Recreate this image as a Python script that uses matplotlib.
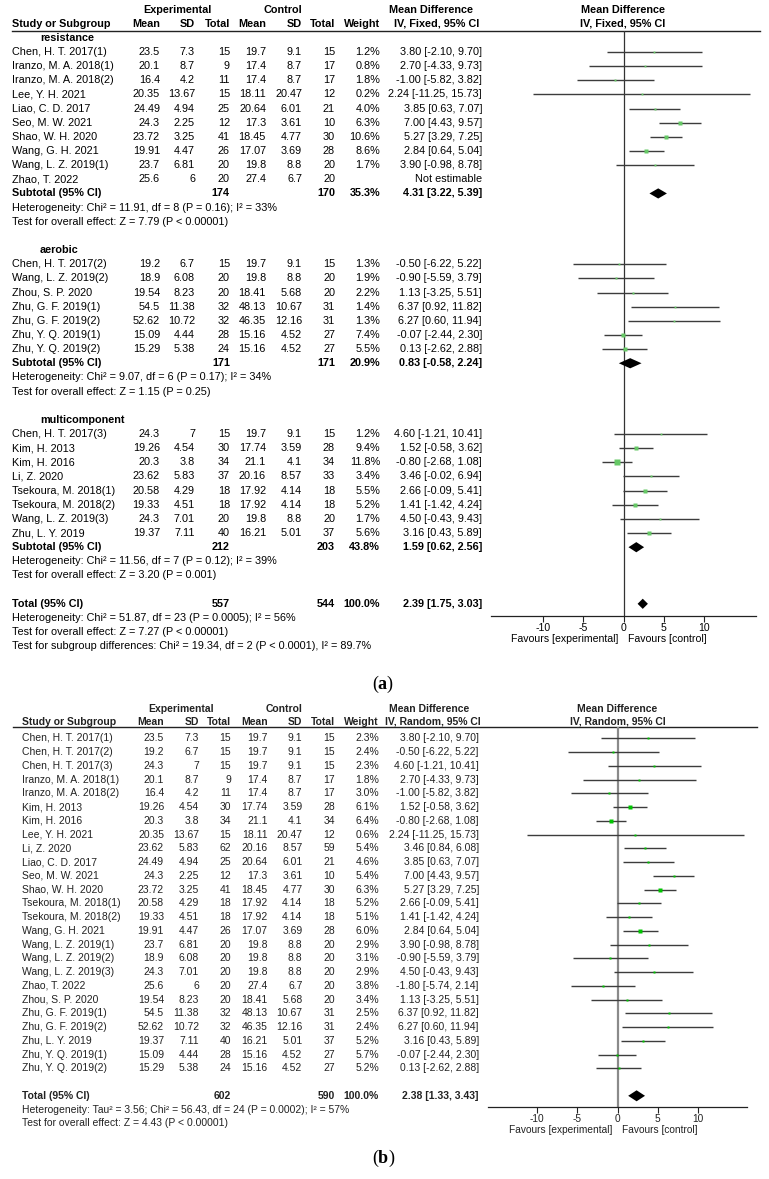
import numpy as np
import matplotlib.pyplot as plt

plt.rcParams['font.family'] = ['Liberation Sans', 'DejaVu Sans']
plt.rcParams['axes.unicode_minus'] = False
plt.rcParams['mathtext.fontset'] = 'custom'
plt.rcParams['mathtext.rm'] = 'Liberation Serif'
plt.rcParams['mathtext.bf'] = 'Liberation Serif:bold'

# ---------------- panel (a): fixed effect, by subgroup ----------------
a_groups = ["resistance", "aerobic", "multicomponent"]
a_group_size = [10, 7, 8]
a_study = ["Chen, H. T. 2017(1)", "Iranzo, M. A. 2018(1)", "Iranzo, M. A. 2018(2)", "Lee, Y. H. 2021",
           "Liao, C. D. 2017", "Seo, M. W. 2021", "Shao, W. H. 2020", "Wang, G. H. 2021",
           "Wang, L. Z. 2019(1)", "Zhao, T. 2022",
           "Chen, H. T. 2017(2)", "Wang, L. Z. 2019(2)", "Zhou, S. P. 2020", "Zhu, G. F. 2019(1)",
           "Zhu, G. F. 2019(2)", "Zhu, Y. Q. 2019(1)", "Zhu, Y. Q. 2019(2)",
           "Chen, H. T. 2017(3)", "Kim, H. 2013", "Kim, H. 2016", "Li, Z. 2020",
           "Tsekoura, M. 2018(1)", "Tsekoura, M. 2018(2)", "Wang, L. Z. 2019(3)", "Zhu, L. Y. 2019"]
a_exp_mean = [23.5, 20.1, 16.4, 20.35, 24.49, 24.3, 23.72, 19.91, 23.7, 25.6,
              19.2, 18.9, 19.54, 54.5, 52.62, 15.09, 15.29,
              24.3, 19.26, 20.3, 23.62, 20.58, 19.33, 24.3, 19.37]
a_exp_sd = [7.3, 8.7, 4.2, 13.67, 4.94, 2.25, 3.25, 4.47, 6.81, 6,
            6.7, 6.08, 8.23, 11.38, 10.72, 4.44, 5.38,
            7, 4.54, 3.8, 5.83, 4.29, 4.51, 7.01, 7.11]
a_exp_n = [15, 9, 11, 15, 25, 12, 41, 26, 20, 20,
           15, 20, 20, 32, 32, 28, 24,
           15, 30, 34, 37, 18, 18, 20, 40]
a_ctl_mean = [19.7, 17.4, 17.4, 18.11, 20.64, 17.3, 18.45, 17.07, 19.8, 27.4,
              19.7, 19.8, 18.41, 48.13, 46.35, 15.16, 15.16,
              19.7, 17.74, 21.1, 20.16, 17.92, 17.92, 19.8, 16.21]
a_ctl_sd = [9.1, 8.7, 8.7, 20.47, 6.01, 3.61, 4.77, 3.69, 8.8, 6.7,
            9.1, 8.8, 5.68, 10.67, 12.16, 4.52, 4.52,
            9.1, 3.59, 4.1, 8.57, 4.14, 4.14, 8.8, 5.01]
a_ctl_n = [15, 17, 17, 12, 21, 10, 30, 28, 20, 20,
           15, 20, 20, 31, 31, 27, 27,
           15, 28, 34, 33, 18, 18, 20, 37]
a_weight = [1.2, 0.8, 1.8, 0.2, 4.0, 6.3, 10.6, 8.6, 1.7, None,
            1.3, 1.9, 2.2, 1.4, 1.3, 7.4, 5.5,
            1.2, 9.4, 11.8, 3.4, 5.5, 5.2, 1.7, 5.6]
a_md = [3.80, 2.70, -1.00, 2.24, 3.85, 7.00, 5.27, 2.84, 3.90, None,
        -0.50, -0.90, 1.13, 6.37, 6.27, -0.07, 0.13,
        4.60, 1.52, -0.80, 3.46, 2.66, 1.41, 4.50, 3.16]
a_lo = [-2.10, -4.33, -5.82, -11.25, 0.63, 4.43, 3.29, 0.64, -0.98, None,
        -6.22, -5.59, -3.25, 0.92, 0.60, -2.44, -2.62,
        -1.21, -0.58, -2.68, -0.02, -0.09, -1.42, -0.43, 0.43]
a_hi = [9.70, 9.73, 3.82, 15.73, 7.07, 9.57, 7.25, 5.04, 8.78, None,
        5.22, 3.79, 5.51, 11.82, 11.94, 2.30, 2.88,
        10.41, 3.62, 1.08, 6.94, 5.41, 4.24, 9.43, 5.89]

a_sub_exp_n = [174, 171, 212]
a_sub_ctl_n = [170, 171, 203]
a_sub_weight = [35.3, 20.9, 43.8]
a_sub_md = [4.31, 0.83, 1.59]
a_sub_lo = [3.22, -0.58, 0.62]
a_sub_hi = [5.39, 2.24, 2.56]
a_sub_het = ["Heterogeneity: Chi² = 11.91, df = 8 (P = 0.16); I² = 33%",
             "Heterogeneity: Chi² = 9.07, df = 6 (P = 0.17); I² = 34%",
             "Heterogeneity: Chi² = 11.56, df = 7 (P = 0.12); I² = 39%"]
a_sub_z = ["Test for overall effect: Z = 7.79 (P < 0.00001)",
           "Test for overall effect: Z = 1.15 (P = 0.25)",
           "Test for overall effect: Z = 3.20 (P = 0.001)"]
a_total = [557, 544, 2.39, 1.75, 3.03]
a_total_notes = ["Heterogeneity: Chi² = 51.87, df = 23 (P = 0.0005); I² = 56%",
                 "Test for overall effect: Z = 7.27 (P < 0.00001)",
                 "Test for subgroup differences: Chi² = 19.34, df = 2 (P < 0.0001), I² = 89.7%"]

# ---------------- panel (b): random effects, all studies ----------------
b_study = ["Chen, H. T. 2017(1)", "Chen, H. T. 2017(2)", "Chen, H. T. 2017(3)", "Iranzo, M. A. 2018(1)",
           "Iranzo, M. A. 2018(2)", "Kim, H. 2013", "Kim, H. 2016", "Lee, Y. H. 2021", "Li, Z. 2020",
           "Liao, C. D. 2017", "Seo, M. W. 2021", "Shao, W. H. 2020", "Tsekoura, M. 2018(1)",
           "Tsekoura, M. 2018(2)", "Wang, G. H. 2021", "Wang, L. Z. 2019(1)", "Wang, L. Z. 2019(2)",
           "Wang, L. Z. 2019(3)", "Zhao, T. 2022", "Zhou, S. P. 2020", "Zhu, G. F. 2019(1)",
           "Zhu, G. F. 2019(2)", "Zhu, L. Y. 2019", "Zhu, Y. Q. 2019(1)", "Zhu, Y. Q. 2019(2)"]
b_exp_mean = [23.5, 19.2, 24.3, 20.1, 16.4, 19.26, 20.3, 20.35, 23.62, 24.49, 24.3, 23.72, 20.58,
              19.33, 19.91, 23.7, 18.9, 24.3, 25.6, 19.54, 54.5, 52.62, 19.37, 15.09, 15.29]
b_exp_sd = [7.3, 6.7, 7, 8.7, 4.2, 4.54, 3.8, 13.67, 5.83, 4.94, 2.25, 3.25, 4.29,
            4.51, 4.47, 6.81, 6.08, 7.01, 6, 8.23, 11.38, 10.72, 7.11, 4.44, 5.38]
b_exp_n = [15, 15, 15, 9, 11, 30, 34, 15, 62, 25, 12, 41, 18, 18, 26, 20, 20, 20, 20, 20, 32, 32, 40, 28, 24]
b_ctl_mean = [19.7, 19.7, 19.7, 17.4, 17.4, 17.74, 21.1, 18.11, 20.16, 20.64, 17.3, 18.45, 17.92,
              17.92, 17.07, 19.8, 19.8, 19.8, 27.4, 18.41, 48.13, 46.35, 16.21, 15.16, 15.16]
b_ctl_sd = [9.1, 9.1, 9.1, 8.7, 8.7, 3.59, 4.1, 20.47, 8.57, 6.01, 3.61, 4.77, 4.14,
            4.14, 3.69, 8.8, 8.8, 8.8, 6.7, 5.68, 10.67, 12.16, 5.01, 4.52, 4.52]
b_ctl_n = [15, 15, 15, 17, 17, 28, 34, 12, 59, 21, 10, 30, 18, 18, 28, 20, 20, 20, 20, 20, 31, 31, 37, 27, 27]
b_weight = [2.3, 2.4, 2.3, 1.8, 3.0, 6.1, 6.4, 0.6, 5.4, 4.6, 5.4, 6.3, 5.2,
            5.1, 6.0, 2.9, 3.1, 2.9, 3.8, 3.4, 2.5, 2.4, 5.2, 5.7, 5.2]
b_md = [3.80, -0.50, 4.60, 2.70, -1.00, 1.52, -0.80, 2.24, 3.46, 3.85, 7.00, 5.27, 2.66,
        1.41, 2.84, 3.90, -0.90, 4.50, -1.80, 1.13, 6.37, 6.27, 3.16, -0.07, 0.13]
b_lo = [-2.10, -6.22, -1.21, -4.33, -5.82, -0.58, -2.68, -11.25, 0.84, 0.63, 4.43, 3.29, -0.09,
        -1.42, 0.64, -0.98, -5.59, -0.43, -5.74, -3.25, 0.92, 0.60, 0.43, -2.44, -2.62]
b_hi = [9.70, 5.22, 10.41, 9.73, 3.82, 3.62, 1.08, 15.73, 6.08, 7.07, 9.57, 7.25, 5.41,
        4.24, 5.04, 8.78, 3.79, 9.43, 2.14, 5.51, 11.82, 11.94, 5.89, 2.30, 2.88]
b_total = [602, 590, 2.38, 1.33, 3.43]
b_total_notes = ["Heterogeneity: Tau² = 3.56; Chi² = 56.43, df = 24 (P = 0.0002); I² = 57%",
                 "Test for overall effect: Z = 4.43 (P < 0.00001)"]

ticks = [-10, -5, 0, 5, 10]

W, H = 769, 1179
fig = plt.figure(figsize=(W / 100, H / 100), dpi=100)
bg = fig.add_axes([0, 0, 1, 1])
bg.set_xlim(0, W)
bg.set_ylim(H, 0)
bg.axis('off')


def ci_text(m, l, h):
    return f"{m:.2f} [{l:.2f}, {h:.2f}]"


def table_row(L, r, name, cells, bold=False, indent=0):
    y = L['y0'] + L['dy'] * r
    fw = 'bold' if bold else 'normal'
    bg.text(L['name_x'] + indent, y, name, ha='left', va='center', fontsize=L['fs'],
            fontweight=fw, color=L['tc'])
    for x, c in zip(L['cols'], cells):
        if c is None:
            continue
        bg.text(x, y, c, ha='right', va='center', fontsize=L['fs'], fontweight=fw, color=L['tc'])


def note_row(L, r, s):
    y = L['y0'] + L['dy'] * r
    bg.text(L['name_x'], y, s, ha='left', va='center', fontsize=L['fs'], color=L['tc'])


def header(L, model):
    fs, tc = L['fs'], L['tc']
    y1, y2 = L['hy']
    bg.text(L['exp_c'], y1, "Experimental", ha='center', va='center', fontsize=fs, fontweight='bold', color=tc)
    bg.text(L['ctl_c'], y1, "Control", ha='center', va='center', fontsize=fs, fontweight='bold', color=tc)
    bg.text(L['name_x'], y2, "Study or Subgroup", ha='left', va='center', fontsize=fs, fontweight='bold', color=tc)
    for x, s in zip(L['cols'][:7], ["Mean", "SD", "Total", "Mean", "SD", "Total", "Weight"]):
        bg.text(x, y2, s, ha='right', va='center', fontsize=fs, fontweight='bold', color=tc)
    for xc, xc2 in [(L['md_c'], L['md_c2']), (L['plot_c'], L['plot_c'])]:
        bg.text(xc, y1, "Mean Difference", ha='center', va='center', fontsize=fs, fontweight='bold', color=tc)
        bg.text(xc2, y2, f"IV, {model}, 95% CI", ha='center', va='center', fontsize=fs, fontweight='bold', color=tc)
    bg.plot(L['line_x'], [L['line_y']] * 2, color='#222222', lw=1.0)


def study_cells(i, em, es, en, cm, cs, cn, w, m, l, h):
    wt = f"{w[i]:.1f}%" if w[i] is not None else None
    md = ci_text(m[i], l[i], h[i]) if m[i] is not None else "Not estimable"
    return [f"{em[i]:g}", f"{es[i]:g}", f"{en[i]}", f"{cm[i]:g}", f"{cs[i]:g}", f"{cn[i]}", wt, md]


def forest_axes(L):
    x0, x1 = L['ax_x']
    ytop, ybot = L['line_y'], L['axis_y']
    ax = fig.add_axes([x0 / W, 1 - ybot / H, (x1 - x0) / W, (ybot - ytop) / H])
    ax.set_facecolor('none')
    ax.set_xlim(-L['xr'], L['xr'])
    ax.set_ylim((ybot - L['y0']) / L['dy'], (ytop - L['y0']) / L['dy'])
    for s in ['top', 'left', 'right']:
        ax.spines[s].set_visible(False)
    ax.spines['bottom'].set_color('#222222')
    ax.spines['bottom'].set_linewidth(0.9)
    ax.set_yticks([])
    ax.set_xticks(ticks)
    ax.set_xticklabels([str(t) for t in ticks])
    ax.tick_params(axis='x', length=4, width=0.8, pad=1.5, labelsize=L['fs'] - 0.2,
                   colors='#222222', labelcolor=L['tc'])
    ax.axvline(0, color=L['zc'], lw=L['zw'], zorder=1)
    ya = L['axis_y'] + 23.5
    bg.text(L['fav'][0], ya, "Favours [experimental]", ha='right', va='center', fontsize=L['fs'] - 0.2, color=L['tc'])
    bg.text(L['fav'][1], ya, "Favours [control]", ha='left', va='center', fontsize=L['fs'] - 0.2, color=L['tc'])
    return ax


def draw_study(ax, L, r, m, l, h, w):
    if m is None:
        return
    ax.plot([l, h], [r, r], color=L['lc'], lw=1.0, zorder=2, solid_capstyle='butt')
    ms = max(L['ms_min'], L['ms_k'] * np.sqrt(w))
    ax.plot([m], [r], 's', ms=ms, color=L['sq'], mec='none', zorder=3)


def draw_diamond(ax, r, m, l, h, hh):
    ax.fill([l, m, h, m], [r, r - hh, r, r + hh], color='black', lw=0, zorder=4)


# ---------------- panel (a) ----------------
La = dict(y0=37.8, dy=14.15, fs=7.8, tc='black', name_x=12,
          cols=[160, 195, 230, 266, 302, 335, 380, 482],
          hy=(10, 24), exp_c=177, ctl_c=283, md_c=431, md_c2=437, plot_c=623,
          line_x=[12, 760], line_y=30.5, ax_x=(491, 756), axis_y=615.7, xr=16.45,
          fav=(618, 628), zc='#333333', zw=0.9, lc='#3c3c3c', sq='#66c866',
          ms_k=1.05, ms_min=1.3)
header(La, "Fixed")
axa = forest_axes(La)

r = 0
i = 0
for g, n in enumerate(a_group_size):
    table_row(La, r, a_groups[g], [], bold=True, indent=28)
    for k in range(n):
        rr = r + 1 + k
        table_row(La, rr, a_study[i], study_cells(i, a_exp_mean, a_exp_sd, a_exp_n, a_ctl_mean, a_ctl_sd,
                                                  a_ctl_n, a_weight, a_md, a_lo, a_hi))
        draw_study(axa, La, rr, a_md[i], a_lo[i], a_hi[i], a_weight[i])
        i += 1
    rs = r + n + 1
    table_row(La, rs, "Subtotal (95% CI)",
              [None, None, f"{a_sub_exp_n[g]}", None, None, f"{a_sub_ctl_n[g]}", f"{a_sub_weight[g]:.1f}%",
               ci_text(a_sub_md[g], a_sub_lo[g], a_sub_hi[g])], bold=True)
    draw_diamond(axa, rs, a_sub_md[g], a_sub_lo[g], a_sub_hi[g], 0.36)
    note_row(La, rs + 1, a_sub_het[g])
    note_row(La, rs + 2, a_sub_z[g])
    r = rs + 4

table_row(La, r, "Total (95% CI)",
          [None, None, f"{a_total[0]}", None, None, f"{a_total[1]}", "100.0%",
           ci_text(a_total[2], a_total[3], a_total[4])], bold=True)
draw_diamond(axa, r, a_total[2], a_total[3], a_total[4], 0.36)
for k, s in enumerate(a_total_notes):
    note_row(La, r + 1 + k, s)

bg.text(383, 684, r"($\mathbf{a}$)", ha='center', va='center', fontsize=13, family='Liberation Serif')

# ---------------- panel (b) ----------------
Lb = dict(y0=738.3, dy=13.75, fs=7.5, tc='#222222', name_x=21.5,
          cols=[164, 199, 231, 267.5, 302.5, 335, 379, 479],
          hy=(709.3, 722), exp_c=181, ctl_c=284, md_c=429, md_c2=432.5, plot_c=617.6,
          line_x=[13, 757], line_y=727.3, ax_x=(488.3, 746.7), axis_y=1106.7, xr=16.1,
          fav=(612.7, 622.3), zc='#8a8a8a', zw=1.6, lc='#3c3c3c', sq='#00c400',
          ms_k=0.9, ms_min=1.4)
header(Lb, "Random")
axb = forest_axes(Lb)

for i in range(len(b_study)):
    table_row(Lb, i, b_study[i], study_cells(i, b_exp_mean, b_exp_sd, b_exp_n, b_ctl_mean, b_ctl_sd,
                                             b_ctl_n, b_weight, b_md, b_lo, b_hi))
    draw_study(axb, Lb, i, b_md[i], b_lo[i], b_hi[i], b_weight[i])

rt = len(b_study) + 1
table_row(Lb, rt, "Total (95% CI)",
          [None, None, f"{b_total[0]}", None, None, f"{b_total[1]}", "100.0%",
           ci_text(b_total[2], b_total[3], b_total[4])], bold=True)
draw_diamond(axb, rt, b_total[2], b_total[3], b_total[4], 0.4)
for k, s in enumerate(b_total_notes):
    note_row(Lb, rt + 1 + k, s)

bg.text(384, 1158, r"($\mathbf{b}$)", ha='center', va='center', fontsize=13, family='Liberation Serif')

fig.savefig('out.png', dpi=100)
